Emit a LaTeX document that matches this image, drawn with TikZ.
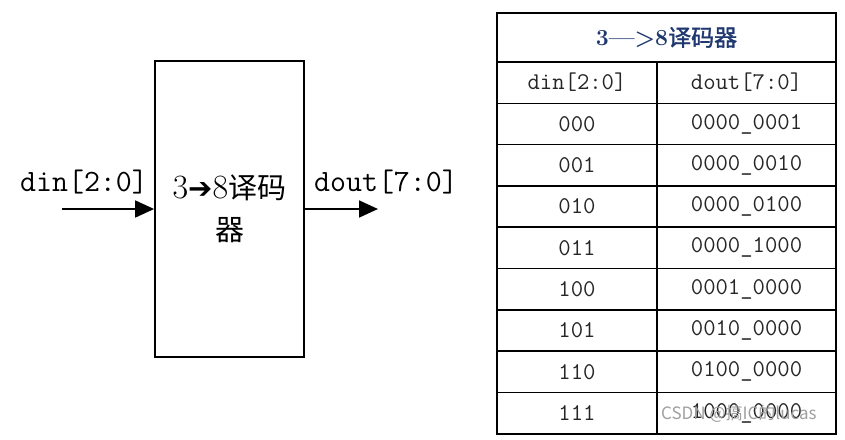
\documentclass[tikz,border=0pt]{standalone}
\usepackage{fontspec}
\newfontfamily\cjk{Noto Sans CJK SC}
\newfontfamily\cjkbold[FakeBold=1.5]{Noto Sans CJK SC}
\newfontfamily\arrowfont{DejaVu Sans}
\usetikzlibrary{arrows.meta,positioning}
\definecolor{titleblue}{RGB}{32,56,112}

\begin{document}
\begin{tikzpicture}[x=1pt,y=-1pt,
 decoder/.style={rectangle,draw=black,line width=1.8pt,minimum width=149pt,minimum height=296pt,
   inner sep=0pt,align=center,font=\fontsize{34}{42}\selectfont},
 sigtxt/.style={font=\ttfamily\fontsize{31}{33}\selectfont,inner sep=0pt},
 sig/.style={draw,-{Triangle[length=19pt,width=17pt]},line width=1.8pt},
 cell/.style={rectangle,draw=black,line width=1.6pt,minimum height=41.3pt,inner sep=0pt,
   outer sep=0pt,font=\ttfamily\fontsize{24}{26}\selectfont,text=black!85},
 cellL/.style={cell,minimum width=160pt},
 cellR/.style={cell,minimum width=179pt},
 titlecell/.style={cell,minimum width=339pt,minimum height=49pt,text=titleblue,
   font=\fontsize{23}{25}\selectfont},
 wmark/.style={font=\cjk\fontsize{17}{19}\selectfont,text=gray!75,inner sep=0pt}]
\useasboundingbox (0,0) rectangle (845,439);
% decoder block
\node [decoder] (dec) at (229.5,209) {3{\arrowfont\fontsize{29}{42}\selectfont ➔}8{\cjk\fontsize{29}{42}\selectfont 译码}\\{\cjk\fontsize{29}{42}\selectfont 器}};
\coordinate (in) at (62,209);
\coordinate (out) at (378,209);
\path [sig] (in) -- (dec.west);
\path [sig] (dec.east) -- (out);
\node [sigtxt] (dinlbl) at (84,182) {din[2:0]};
\node [sigtxt] (doutlbl) at (386,182) {dout[7:0]};
% truth table
\node [titlecell] (title) at (666.5,37.5) {{\bfseries 3—>8}{\cjkbold 译码器}};
\node [cellL,below right=0pt and 0pt of title.south west] (hdin) {din[2:0]};
\node [cellR,right=0pt of hdin] (hdout) {dout[7:0]};
\node [cellL,below=0pt of hdin] (a0) {000}; \node [cellR,right=0pt of a0] (b0) {0000\_0001};
\node [cellL,below=0pt of a0] (a1) {001}; \node [cellR,right=0pt of a1] (b1) {0000\_0010};
\node [cellL,below=0pt of a1] (a2) {010}; \node [cellR,right=0pt of a2] (b2) {0000\_0100};
\node [cellL,below=0pt of a2] (a3) {011}; \node [cellR,right=0pt of a3] (b3) {0000\_1000};
\node [cellL,below=0pt of a3] (a4) {100}; \node [cellR,right=0pt of a4] (b4) {0001\_0000};
\node [cellL,below=0pt of a4] (a5) {101}; \node [cellR,right=0pt of a5] (b5) {0010\_0000};
\node [cellL,below=0pt of a5] (a6) {110}; \node [cellR,right=0pt of a6] (b6) {0100\_0000};
\node [cellL,below=0pt of a6] (a7) {111}; \node [cellR,right=0pt of a7] (b7) {1000\_0000};
\node [wmark,anchor=west] (wm) at (661,414) {CSDN @搞IC的lucas};
\end{tikzpicture}
\end{document}
